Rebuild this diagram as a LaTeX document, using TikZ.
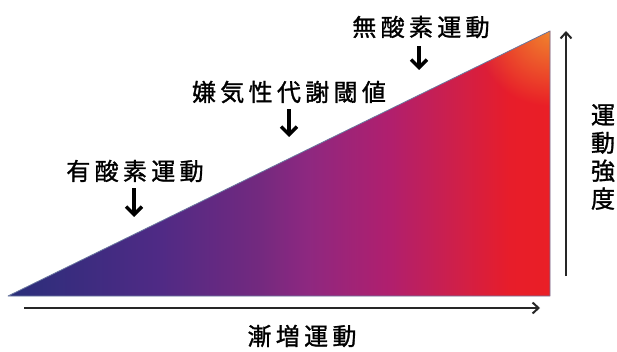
\documentclass[tikz,border=0pt]{standalone}
\usepackage{fontspec}
\setmainfont{Noto Sans CJK JP}[LetterSpace=18, FakeBold=1.2]
\usetikzlibrary{arrows.meta,fadings}
\definecolor{cA}{HTML}{2A2E7A}
\definecolor{cB}{HTML}{4F2A85}
\definecolor{cC}{HTML}{73297F}
\definecolor{cD}{HTML}{8E2880}
\definecolor{cE}{HTML}{B01F6E}
\definecolor{cF}{HTML}{D01F48}
\definecolor{cG}{HTML}{E71D2A}
\definecolor{cH}{HTML}{EA1F26}
\definecolor{cOr}{HTML}{F0842E}
\definecolor{edge}{HTML}{6A78A0}
\pgfdeclarehorizontalshading{ramp}{100bp}{
  color(0bp)=(cA); color(25bp)=(cA); color(38.85bp)=(cB); color(48.1bp)=(cC); color(52.7bp)=(cD);
  color(60.1bp)=(cE); color(66.6bp)=(cF); color(71.2bp)=(cG); color(75bp)=(cH); color(100bp)=(cH)}
\tikzfading[name=glow, inner color=transparent!0, outer color=transparent!100]
\tikzset{
  lbl/.style={font=\fontsize{24}{27}\selectfont, inner sep=0pt, text=black},
  darr/.style={-{Straight Barb[length=8pt,width=16pt,line width=3.4pt]}, line width=3.4pt},
  axarr/.style={-{Straight Barb[length=6pt,width=11pt,line width=2pt]}, line width=2pt, draw=black!85}
}
\begin{document}
\begin{tikzpicture}[x=1pt,y=-1pt]
\useasboundingbox (0,0) rectangle (617,352);
\coordinate (bl) at (8,296);
\coordinate (br) at (550,296);
\coordinate (tr) at (550,31);
\shade[shading=ramp] (bl) -- (br) -- (tr) -- cycle;
\begin{scope}
  \clip (bl) -- (br) -- (tr) -- cycle;
  \fill[cOr, path fading=glow] (550,31) circle (75);
\end{scope}
\draw[edge, line width=0.8pt, line join=round] (bl) -- (br) -- (tr) -- cycle;
% labels
\node[lbl] (t1) at (421,27) {無酸素運動};
\node[lbl] (t2) at (289,92) {嫌気性代謝閾値};
\node[lbl] (t3) at (135,171) {有酸素運動};
\node[lbl] (t4) at (302,336) {漸増運動};
\node[lbl, align=center, font=\fontsize{24}{28}\selectfont] (t5) at (603,157) {運\\動\\強\\度};
% down arrows
\coordinate (e1) at (419,70);
\coordinate (e2) at (289,137);
\coordinate (e3) at (134,217);
\draw[darr] (t1.south -| e1) ++(0,8) -- (e1);
\draw[darr] (t2.south -| e2) ++(0,6) -- (e2);
\draw[darr] (t3.south -| e3) ++(0,6) -- (e3);
% axes arrows
\coordinate (h0) at (24,308);
\coordinate (h1) at (540,308);
\coordinate (v0) at (566,276);
\coordinate (v1) at (566,31);
\draw[axarr] (h0) -- (h1);
\draw[axarr] (v0) -- (v1);
\end{tikzpicture}
\end{document}
